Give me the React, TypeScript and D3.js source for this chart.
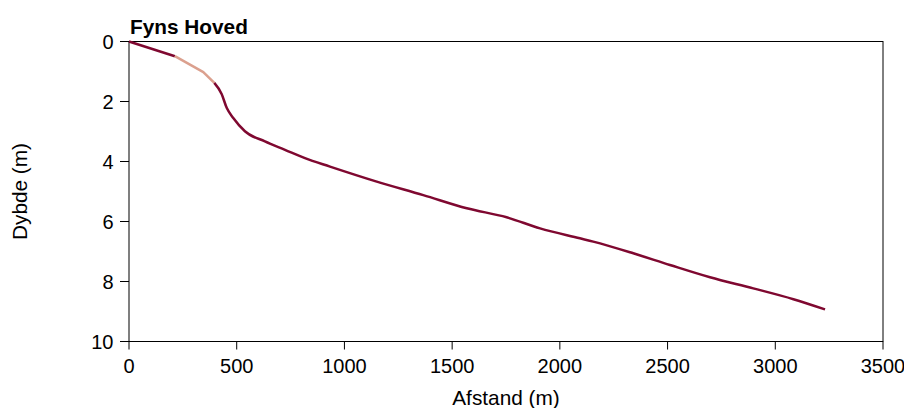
import React from "react";
import * as d3 from "d3";

const title = "Fyns Hoved";
const xLabel = "Afstand (m)";
const yLabel = "Dybde (m)";
const xTicks = [0, 500, 1000, 1500, 2000, 2500, 3000, 3500];
const yTicks = [0, 2, 4, 6, 8, 10];

// distance (m) along transect
const distance = [0, 213, 345, 396, 430, 454, 484, 538, 631, 724, 817, 933, 1150, 1366, 1568, 1753, 1908, 2093, 2155, 2341, 2511, 2697, 2898, 3084, 3231];
// depth (m)
const depth = [0, 0.49, 1.02, 1.38, 1.75, 2.22, 2.55, 2.99, 3.33, 3.61, 3.89, 4.17, 4.67, 5.12, 5.56, 5.86, 6.23, 6.56, 6.67, 7.06, 7.45, 7.86, 8.23, 8.59, 8.93];
// segment groups: [startIndex, endIndex, kind]
const segStart = [0, 1, 3];
const segEnd = [1, 3, 24];
const segKind = ["dark", "light", "dark"];

const W = 904, H = 408;
const M = { left: 129, right: 883, top: 41.5, bottom: 341.5 };
const colors: Record<string, string> = { dark: "#7f0830", light: "#dba08e" };
const FONT = "Liberation Sans, Arial, Helvetica, sans-serif";

export default function App() {
  const x = d3.scaleLinear().domain([0, 3500]).range([M.left, M.right]);
  const y = d3.scaleLinear().domain([0, 10]).range([M.top, M.bottom]);
  const pts = distance.map((d, i) => [d, depth[i]] as [number, number]);
  const smooth = d3
    .line<[number, number]>()
    .x((d) => x(d[0]))
    .y((d) => y(d[1]))
    .curve(d3.curveMonotoneX);
  const straight = d3
    .line<[number, number]>()
    .x((d) => x(d[0]))
    .y((d) => y(d[1]));

  return (
    <div style={{ position: "absolute", left: 0, top: 0 }}>
      <svg width={W} height={H} style={{ display: "block", background: "#fff" }} fontFamily={FONT}>
        <rect x={M.left} y={M.top} width={M.right - M.left} height={M.bottom - M.top} fill="none" stroke="#000" strokeWidth={1} />
        {segStart.map((s, i) => {
          const gen = segKind[i] === "light" ? straight : smooth;
          return (
            <path key={i} d={gen(pts.slice(s, segEnd[i] + 1)) || ""} fill="none" stroke={colors[segKind[i]]} strokeWidth={2.5} strokeLinejoin="round" />
          );
        })}
        {xTicks.map((t) => (
          <g key={"x" + t}>
            <line x1={x(t)} x2={x(t)} y1={M.bottom} y2={M.bottom + 8} stroke="#000" />
            <text x={x(t)} y={373} textAnchor="middle" fontSize={20} fill="#000">{t}</text>
          </g>
        ))}
        {yTicks.map((t) => (
          <g key={"y" + t}>
            <line x1={M.left - 9} x2={M.left} y1={y(t)} y2={y(t)} stroke="#000" />
            <text x={113.5} y={y(t)} dy="0.35em" textAnchor="end" fontSize={20} fill="#000">{t}</text>
          </g>
        ))}
        <text x={(M.left + M.right) / 2} y={405} textAnchor="middle" fontSize={20.8} fill="#000">{xLabel}</text>
        <text transform={`translate(27,${(M.top + M.bottom) / 2}) rotate(-90)`} textAnchor="middle" fontSize={20.8} fill="#000">{yLabel}</text>
        <text x={130} y={34} fontSize={20.8} fontWeight="bold" fill="#000">{title}</text>
      </svg>
    </div>
  );
}
